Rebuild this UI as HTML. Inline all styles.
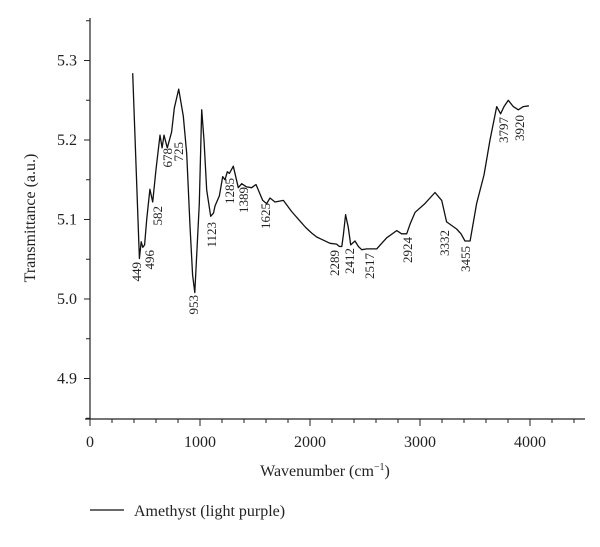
<!DOCTYPE html>
<html><head><meta charset="utf-8"><style>
body{margin:0;background:#fff}
svg text{font-family:"Liberation Serif",serif;fill:#222}
</style></head><body>
<svg id="chart" width="600" height="542" viewBox="0 0 600 542" xmlns="http://www.w3.org/2000/svg">
<g id="axes"></g>
<path id="series" fill="none" stroke="#111" stroke-width="1.3" stroke-linejoin="round"/>
<g id="peaks" font-size="13">
<text transform="translate(141,262) rotate(-90)" text-anchor="end">449</text>
<text transform="translate(154,250) rotate(-90)" text-anchor="end">496</text>
<text transform="translate(162,206) rotate(-90)" text-anchor="end">582</text>
<text transform="translate(172,148) rotate(-90)" text-anchor="end">678</text>
<text transform="translate(183,142) rotate(-90)" text-anchor="end">725</text>
<text transform="translate(198,295) rotate(-90)" text-anchor="end">953</text>
<text transform="translate(216,222) rotate(-90)" text-anchor="end">1123</text>
<text transform="translate(234,178) rotate(-90)" text-anchor="end">1285</text>
<text transform="translate(248,187) rotate(-90)" text-anchor="end">1389</text>
<text transform="translate(270,203) rotate(-90)" text-anchor="end">1625</text>
<text transform="translate(339,250) rotate(-90)" text-anchor="end">2289</text>
<text transform="translate(354,248) rotate(-90)" text-anchor="end">2412</text>
<text transform="translate(374,253) rotate(-90)" text-anchor="end">2517</text>
<text transform="translate(412,237) rotate(-90)" text-anchor="end">2924</text>
<text transform="translate(449,230) rotate(-90)" text-anchor="end">3332</text>
<text transform="translate(470,246) rotate(-90)" text-anchor="end">3455</text>
<text transform="translate(508,117) rotate(-90)" text-anchor="end">3797</text>
<text transform="translate(524,115) rotate(-90)" text-anchor="end">3920</text>
</g>
<text font-size="16" transform="translate(35,218) rotate(-90)" text-anchor="middle">Transmittance (a.u.)</text>
<text font-size="16" x="325" y="476" text-anchor="middle">Wavenumber (cm<tspan font-size="10" dy="-6">−1</tspan><tspan dy="6">)</tspan></text>
<g>
<line x1="90" y1="510" x2="124" y2="510" stroke="#111" stroke-width="1.3"/>
<text font-size="16" x="134" y="516">Amethyst (light purple)</text>
</g>
</svg>
<script>
const wavenumbers=[388,449,465,480,496,515,545,570,600,636,655,673,703,742,766,806,848,879,909,933,953,994,1015,1036,1061,1097,1123,1136,1176,1206,1227,1248,1267,1303,1348,1379,1424,1470,1509,1570,1606,1636,1682,1758,1833,1909,1961,2015,2061,2091,2182,2242,2267,2289,2303,2324,2348,2370,2409,2440,2470,2517,2606,2697,2788,2833,2879,2909,2955,3045,3136,3197,3242,3333,3373,3409,3455,3515,3582,3636,3697,3733,3764,3803,3848,3894,3939,3990];
const transmittance=[5.284,5.051,5.072,5.065,5.068,5.100,5.138,5.122,5.163,5.206,5.190,5.206,5.190,5.210,5.240,5.264,5.230,5.183,5.092,5.030,5.008,5.120,5.238,5.200,5.137,5.104,5.108,5.117,5.130,5.154,5.150,5.160,5.158,5.167,5.140,5.145,5.141,5.140,5.144,5.124,5.120,5.127,5.122,5.124,5.110,5.098,5.090,5.083,5.078,5.076,5.070,5.069,5.066,5.066,5.080,5.106,5.090,5.068,5.073,5.066,5.062,5.063,5.063,5.077,5.086,5.082,5.082,5.094,5.109,5.120,5.134,5.124,5.097,5.088,5.082,5.073,5.073,5.120,5.156,5.200,5.242,5.233,5.242,5.250,5.242,5.238,5.242,5.243];
const xTicks=[0,1000,2000,3000,4000];
const yTicks=[4.9,5.0,5.1,5.2,5.3];
const yTickLabels=["4.9","5.0","5.1","5.2","5.3"];
const NS="http://www.w3.org/2000/svg";
const xs=w=>90+w*0.11;
const ys=v=>299-(v-5.0)*795;
const axes=document.getElementById('axes');
function mk(tag,attrs,parent){const e=document.createElementNS(NS,tag);for(const k in attrs)e.setAttribute(k,attrs[k]);parent.appendChild(e);return e;}
let l=mk('line',{x1:90,y1:18,x2:90,y2:419,stroke:'#222','stroke-width':1.2},axes);


l=mk('line',{x1:85,y1:419,x2:585,y2:419,stroke:'#222','stroke-width':1.2},axes);


for(let w=0;w<=4400;w+=200){const major=w%1000===0;
 const t=mk('line',{x1:xs(w),y1:419,x2:xs(w),y2:major?426:423,stroke:'#222','stroke-width':1},axes);
 
 }
xTicks.forEach(w=>{const t=mk('text',{x:xs(w),y:447,'text-anchor':'middle','font-size':16},axes);t.textContent=String(w);
 
 });
for(let v=4.85;v<=5.351;v+=0.05){const major=Math.abs(Math.round(v*10)-v*10)<1e-6;
 const t=mk('line',{x1:major?84:86,y1:ys(v),x2:90,y2:ys(v),stroke:'#222','stroke-width':1},axes);
 
 }
yTicks.forEach((v,i)=>{const t=mk('text',{x:77,y:ys(v)+5,'text-anchor':'end','font-size':16},axes);t.textContent=yTickLabels[i];
 
 });
document.getElementById('series').setAttribute('d',wavenumbers.map((w,i)=>(i?'L':'M')+xs(w).toFixed(1)+','+ys(transmittance[i]).toFixed(1)).join(' '));
</script>
</body></html>
